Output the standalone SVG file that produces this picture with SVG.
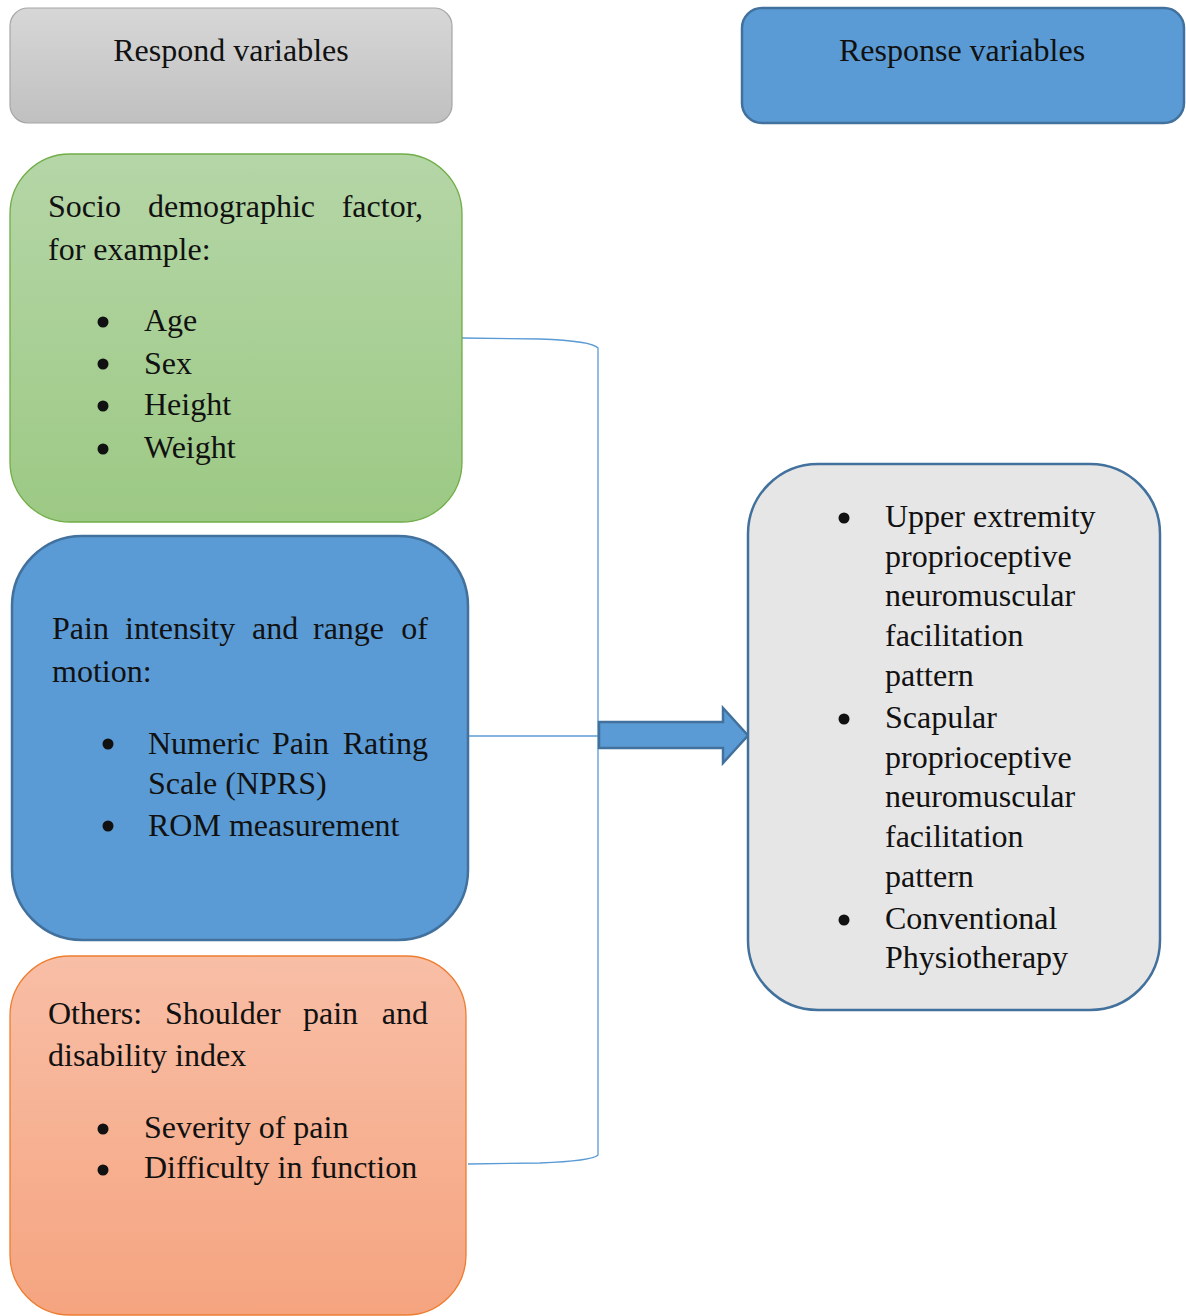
<svg xmlns="http://www.w3.org/2000/svg" width="1186" height="1316" viewBox="0 0 1186 1316">
<defs>
<linearGradient id="gGray" x1="0" y1="0" x2="0" y2="1"><stop offset="0" stop-color="#d7d7d7"/><stop offset="1" stop-color="#c0c0c0"/></linearGradient>
<linearGradient id="gGreen" x1="0" y1="0" x2="0" y2="1"><stop offset="0" stop-color="#b5d6a7"/><stop offset="1" stop-color="#9cc984"/></linearGradient>
<linearGradient id="gOrange" x1="0" y1="0" x2="0" y2="1"><stop offset="0" stop-color="#f8bea6"/><stop offset="1" stop-color="#f5a47f"/></linearGradient>
</defs>
<style>
text{font-family:"Liberation Serif","Times New Roman",serif;font-size:32px;fill:#111}
.c{text-anchor:middle}
.e{text-anchor:end}
.conn{fill:none;stroke:#5b9bd5;stroke-width:1.3}
.b{fill:#111}
</style>
<g id="respond-header">
<rect x="10" y="8" width="442" height="115" rx="18" fill="url(#gGray)" stroke="#a6a6a6" stroke-width="1.2"/>
<text class="c" x="231" y="61">Respond variables</text>
</g>
<g id="response-header">
<rect x="742" y="8" width="442" height="115" rx="20" fill="#5b9bd5" stroke="#41719c" stroke-width="2.5"/>
<text class="c" x="962" y="61">Response variables</text>
</g>
<g id="connectors">
<path class="conn" d="M462,338 L540,339 Q592,341 598,348 L598,1155 Q592,1161 540,1163 L468,1164"/>
<path class="conn" d="M468,736 L598,736"/>
<path d="M599,722 L723,722 L723,708 L748,735.5 L723,763 L723,748 L599,748 Z" fill="#5b9bd5" stroke="#41719c" stroke-width="2.5" stroke-linejoin="miter"/>
</g>
<g id="socio">
<rect x="10" y="154" width="452" height="368" rx="60" fill="url(#gGreen)" stroke="#70ad47" stroke-width="1.3"/>
<text x="48" y="217">Socio</text>
<text x="148" y="217">demographic</text>
<text class="e" x="423" y="217">factor,</text>
<text x="48" y="260">for example:</text>
<circle class="b" cx="103" cy="322" r="5.5"/><text x="144" y="331">Age</text>
<circle class="b" cx="103" cy="364" r="5.5"/><text x="144" y="374">Sex</text>
<circle class="b" cx="103" cy="406" r="5.5"/><text x="144" y="415">Height</text>
<circle class="b" cx="103" cy="449" r="5.5"/><text x="144" y="458">Weight</text>
</g>
<g id="pain">
<rect x="12" y="536" width="456" height="404" rx="70" fill="#5b9bd5" stroke="#41719c" stroke-width="2.5"/>
<text x="52" y="639">Pain</text>
<text x="125" y="639">intensity</text>
<text x="252" y="639">and</text>
<text x="313" y="639">range</text>
<text class="e" x="428" y="639">of</text>
<text x="52" y="682">motion:</text>
<circle class="b" cx="108" cy="744" r="5.5"/>
<text x="148" y="754">Numeric</text>
<text x="272" y="754">Pain</text>
<text class="e" x="428" y="754">Rating</text>
<text x="148" y="794">Scale (NPRS)</text>
<circle class="b" cx="108" cy="826" r="5.5"/>
<text x="148" y="836">ROM measurement</text>
</g>
<g id="others">
<rect x="10" y="956" width="456" height="359" rx="60" fill="url(#gOrange)" stroke="#ed7d31" stroke-width="1.3"/>
<text x="48" y="1024">Others:</text>
<text x="165" y="1024">Shoulder</text>
<text x="303" y="1024">pain</text>
<text class="e" x="428" y="1024">and</text>
<text x="48" y="1066">disability index</text>
<circle class="b" cx="103" cy="1129" r="5.5"/><text x="144" y="1138">Severity of pain</text>
<circle class="b" cx="103" cy="1170" r="5.5"/><text x="144" y="1178">Difficulty in function</text>
</g>
<g id="interventions">
<rect x="748" y="464" width="412" height="546" rx="70" fill="#e7e6e6" stroke="#41719c" stroke-width="2.5"/>
<circle class="b" cx="844" cy="518" r="5.5"/>
<text x="885" y="527">Upper extremity</text>
<text x="885" y="567">proprioceptive</text>
<text x="885" y="606">neuromuscular</text>
<text x="885" y="646">facilitation</text>
<text x="885" y="686">pattern</text>
<circle class="b" cx="844" cy="719" r="5.5"/>
<text x="885" y="728">Scapular</text>
<text x="885" y="768">proprioceptive</text>
<text x="885" y="807">neuromuscular</text>
<text x="885" y="847">facilitation</text>
<text x="885" y="887">pattern</text>
<circle class="b" cx="844" cy="920" r="5.5"/>
<text x="885" y="929">Conventional</text>
<text x="885" y="968">Physiotherapy</text>
</g>
</svg>
